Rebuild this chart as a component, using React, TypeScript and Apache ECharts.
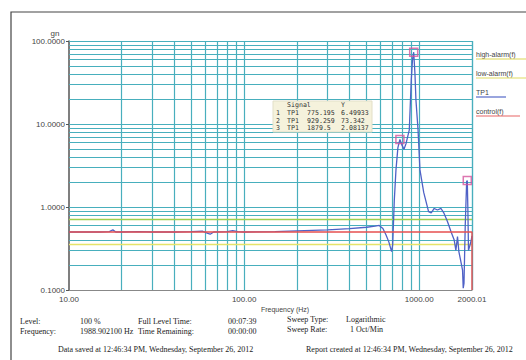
import React, { useEffect, useRef } from "react";
import * as echarts from "echarts";

// ---- data ----
const tp1Freq = [10, 15, 17, 17.8, 18.5, 20, 25, 30, 40, 50, 58, 62, 64, 67, 80, 86, 92, 100, 150, 200, 300, 400, 500, 560, 590, 620, 646, 670, 695, 705, 720, 736, 755, 775.195, 795, 818, 840, 877, 900, 915, 929.259, 945, 957, 984, 1009, 1060, 1130, 1170, 1217, 1270, 1331, 1380, 1450, 1520, 1583, 1618, 1653, 1683, 1720, 1766, 1782, 1800, 1830, 1864, 1879.5, 1895, 1910, 1950, 1980, 2000];
const tp1Val = [0.5, 0.5, 0.505, 0.53, 0.5, 0.5, 0.505, 0.5, 0.5, 0.505, 0.51, 0.48, 0.47, 0.5, 0.505, 0.52, 0.505, 0.5, 0.505, 0.515, 0.53, 0.55, 0.57, 0.59, 0.6, 0.55, 0.46, 0.38, 0.29, 0.35, 1.2, 2.8, 5.2, 6.49933, 5.6, 4.96, 5.8, 8.5, 34, 60, 73.342, 40, 19.5, 8.5, 2.8, 1.5, 0.88, 0.85, 0.96, 0.92, 0.96, 0.85, 0.665, 0.5, 0.4, 0.3, 0.44, 0.29, 0.23, 0.174, 0.105, 0.12, 0.6, 2.02, 2.08137, 0.9, 0.3, 0.35, 0.4, 0.45];

const xMin = 10;
const xMax = 2000.01;
const yMin = 0.1;
const yMax = 100;

const highAlarm = 0.707;
const lowAlarm = 0.354;
const controlLevel = 0.5;

const markerFreq = [775.195, 929.259, 1879.5];
const markerVal = [6.49933, 73.342, 2.08137];

const gridX = [20, 30, 40, 50, 60, 70, 80, 90, 100, 200, 300, 400, 500, 600, 700, 800, 900, 1000, 2000, 2000.01];
const gridY = [0.2, 0.3, 0.4, 0.6, 0.8, 0.9, 1, 2, 3, 4, 5, 6, 7, 8, 9, 10, 20, 30, 40, 50, 60, 70, 80, 90, 100];

const legendNames = ["high-alarm(f)", "low-alarm(f)", "TP1", "control(f)"];
const legendColors = ["#dcd655", "#e0dc62", "#5468c8", "#e86464"];

const infoRow1 = ["Level:", "100 %", "Full Level Time:", "00:07:39", "Sweep Type:", "Logarithmic"];
const infoRow2 = ["Frequency:", "1988.902100 Hz", "Time Remaining:", "00:00:00", "Sweep Rate:", "1 Oct/Min"];
const footerLeft = "Data saved at 12:46:34 PM, Wednesday, September 26, 2012";
const footerRight = "Report created at 12:46:34 PM, Wednesday, September 26, 2012";

export default function App() {
  const ref = useRef<HTMLDivElement>(null);

  useEffect(() => {
    document.body.style.margin = "0";
    if (!ref.current) return;
    const chart = echarts.init(ref.current, null, { renderer: "svg" });

    const serif = "'Liberation Serif', 'DejaVu Serif', serif";
    const sans = "'Liberation Sans', Arial, sans-serif";
    const mono = "'DejaVu Sans Mono', 'Liberation Mono', monospace";

    const txt = (text: string, x: number, y: number, size: number, family: string, fill: string, align = "left") => ({
      type: "text",
      x,
      y,
      silent: true,
      style: {
        text,
        fontSize: size,
        fontFamily: family,
        fill,
        align,
        textAlign: align,
        verticalAlign: "middle",
        textVerticalAlign: "middle",
      },
    });

    const graphics: any[] = [];
    // outer frame (right side lies beyond the picture)
    graphics.push({
      type: "rect",
      silent: true,
      shape: { x: 11, y: 12, width: 530, height: 360 },
      style: { fill: "none", stroke: "#444", lineWidth: 1.2 },
    });
    // y axis unit
    graphics.push(txt("gn", 55, 33, 8, sans, "#444", "center"));
    // x axis name
    graphics.push(txt("Frequency (Hz)", 285, 309, 7, sans, "#444", "center"));

    // legend
    const legY = [54, 73, 92, 111];
    const legEnd = [526, 526, 506, 520];
    legendNames.forEach((n, i) => {
      graphics.push(txt(n, 476, legY[i], 7, sans, "#444", "left"));
      graphics.push({
        type: "line",
        silent: true,
        shape: { x1: 476, y1: legY[i] + 5, x2: legEnd[i], y2: legY[i] + 5 },
        style: { stroke: legendColors[i], lineWidth: 1.2 },
      });
    });

    // marker table
    graphics.push({
      type: "rect",
      silent: true,
      shape: { x: 273, y: 101, width: 99, height: 31 },
      style: { fill: "#f5f2dc", stroke: "#e2dfc8", lineWidth: 1 },
      z: 10,
    });
    const tblRows = [105, 113.3, 120.7, 127.7];
    const fs = 6.6;
    graphics.push({ ...txt("Signal", 287, tblRows[0], fs, mono, "#333"), z: 11 });
    graphics.push({ ...txt("Y", 341, tblRows[0], fs, mono, "#333"), z: 11 });
    markerFreq.forEach((f, i) => {
      graphics.push({ ...txt(String(i + 1), 276, tblRows[i + 1], fs, mono, "#333"), z: 11 });
      graphics.push({ ...txt("TP1", 287, tblRows[i + 1], fs, mono, "#333"), z: 11 });
      graphics.push({ ...txt(String(f), 307, tblRows[i + 1], fs, mono, "#333"), z: 11 });
      graphics.push({ ...txt(String(markerVal[i]), 341, tblRows[i + 1], fs, mono, "#333"), z: 11 });
    });

    // info rows
    const col1 = [20, 80, 138, 228];
    infoRow1.slice(0, 4).forEach((t, i) => graphics.push(txt(t, col1[i], 321, 8, serif, "#222")));
    infoRow2.slice(0, 4).forEach((t, i) => graphics.push(txt(t, col1[i], 331, 8, serif, "#222")));
    graphics.push(txt(infoRow1[4], 287, 319, 8, serif, "#222"));
    graphics.push(txt(infoRow1[5], 346, 319, 8, serif, "#222"));
    graphics.push(txt(infoRow2[4], 287, 329, 8, serif, "#222"));
    graphics.push(txt(infoRow2[5], 350, 329, 8, serif, "#222"));
    graphics.push(txt(footerLeft, 58, 349, 8, serif, "#222"));
    graphics.push(txt(footerRight, 306, 349, 8, serif, "#222"));

    const gridColor = "#48afbd";

    const option: any = {
      animation: false,
      grid: { left: 69, top: 41, right: 54, bottom: 70, containLabel: false },
      xAxis: {
        type: "log",
        logBase: 10,
        min: xMin,
        max: xMax,
        axisLine: { show: true, lineStyle: { color: "#888", width: 1.2 } },
        axisTick: { show: false },
        splitLine: { show: false },
        minorSplitLine: { show: false },
        axisLabel: {
          fontSize: 8,
          fontFamily: sans,
          color: "#444",
          margin: 5,
          formatter: (v: number) => v.toFixed(2),
        },
      },
      yAxis: {
        type: "log",
        logBase: 10,
        min: yMin,
        max: yMax,
        axisLine: { show: true, lineStyle: { color: "#555", width: 1.5 } },
        axisTick: { show: true, length: 3, lineStyle: { color: "#555" } },
        splitLine: { show: false },
        axisLabel: {
          fontSize: 8,
          fontFamily: sans,
          color: "#444",
          margin: 4,
          formatter: (v: number) => v.toFixed(4),
        },
      },
      series: [
        {
          type: "line",
          name: "grid",
          data: [[xMin, yMin]],
          showSymbol: false,
          silent: true,
          z: 1,
          lineStyle: { width: 0 },
          markLine: {
            silent: true,
            symbol: ["none", "none"],
            label: { show: false },
            emphasis: { disabled: true },
            animation: false,
            lineStyle: { color: gridColor, width: 1.2, type: "solid" },
            data: [
              ...gridX.map((v) => ({ xAxis: v })),
              ...gridY.map((v) => ({ yAxis: v })),
            ],
          },
        },
        {
          type: "line",
          name: "high-alarm(f)",
          data: [[xMin, highAlarm], [xMax, highAlarm]],
          showSymbol: false,
          silent: true,
          z: 5,
          lineStyle: { color: "#9fcf4c", width: 1.3 },
        },
        {
          type: "line",
          name: "low-alarm(f)",
          data: [[xMin, lowAlarm], [xMax, lowAlarm]],
          showSymbol: false,
          silent: true,
          z: 5,
          lineStyle: { color: "#e6e36a", width: 1.6 },
        },
        {
          type: "line",
          name: "TP1",
          data: tp1Freq.map((f, i) => [f, tp1Val[i]]),
          showSymbol: false,
          silent: true,
          z: 6,
          lineStyle: { color: "#4f61c6", width: 1.3 },
        },
        {
          type: "line",
          name: "control(f)",
          data: [[xMin, controlLevel], [xMax, controlLevel], [xMax, yMin]],
          showSymbol: false,
          silent: true,
          clip: false,
          z: 8,
          lineStyle: { color: "#e65050", width: 1.4 },
        },
        {
          type: "scatter",
          name: "markers",
          data: markerFreq.map((f, i) => [f, markerVal[i]]),
          symbol: "rect",
          symbolSize: 8,
          silent: true,
          z: 9,
          itemStyle: { color: "rgba(0,0,0,0)", borderColor: "#d4559e", borderWidth: 1.5 },
        },
      ],
      graphic: graphics,
    };

    chart.setOption(option);
    return () => chart.dispose();
  }, []);

  return <div ref={ref} style={{ width: 526, height: 360, background: "#fff" }} />;
}
